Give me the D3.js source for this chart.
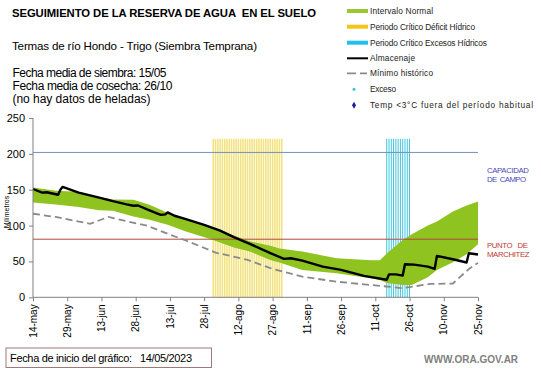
<!DOCTYPE html>
<html><head><meta charset="utf-8">
<script src="https://cdn.jsdelivr.net/npm/d3@7"></script>
<style>body{margin:0;background:#fff}svg{display:block;font-family:"Liberation Sans",Arial,sans-serif}svg text{white-space:pre}</style>
</head><body><svg id="c" width="541" height="368"></svg>
<script>
// ---- data (day offset from 14/05/2023, value in mm) ----
const startDate = "2023-05-14";
const tickLabels = ["14-may","29-may","13-jun","28-jun","13-jul","28-jul","12-ago","27-ago","11-sep","26-sep","11-oct","26-oct","10-nov","25-nov"];
const almDays = [0,4,6,11,12,13,20,29,35,41,44,46,50,54,56,58,59,62,67,75,82,88,95,104,110,113,118,127,135,145,155,156,159,162,163,167,173,176,177,184,190,191,195];
const almVals = [151,146,146.5,143,150,154,146,139,134,129.5,127.7,128,122.5,117.5,115,115.6,118.4,113.7,109,101,93,84,74.6,61.5,53.6,54.5,51.2,42.8,38.2,29.8,24.5,32,32,30.3,46,45.5,42.8,39.5,57.8,53,48.5,61.5,59.6];
const bandDays = [0,10,20,29,35,44,51,59,67,78,88,95,104,108,118,133,148,152,155,162,166,173,177,184,190,195];
const bandHigh = [153,148.7,147,140,136.5,136,129,118,110,96.5,86,78,72,68,63.8,54.5,51.5,51.5,61,80,88,100,105.8,119.8,128,133.7];
const bandLow  = [132.3,129.5,126,121.5,120.6,112.8,108,101,91.8,81,69.4,63.8,52,48.4,38.2,33.5,26.5,24,20,17,17,28,38,49,60,74];
const minDays = [0,10,25,33,50,59,67,80,94,104,118,133,148,162,174,184,191,195];
const minVals = [116.5,112,102.5,112,99.7,88.6,79.2,62.4,52.2,40.6,28.8,21.8,17.2,12.8,18.6,19.2,39.5,48];
const deficitStart = 79, deficitEnd = 109;
const excessStart = 155, excessEnd = 165;
const periodTop = 221;
const capacidad = 202, marchitez = 81;
const yTicks = [0,50,100,150,200,250];
const legendLabels = ["Intervalo Normal", "Periodo Crítico Déficit Hídrico", "Periodo Crítico Excesos Hídricos", "Almacenaje", "Mínimo histórico", "Exceso", "Temp <3°C fuera del período habitual"];

const svg = d3.select("#c");
const t0 = d3.timeParse("%Y-%m-%d")(startDate);
const dt = d => d3.timeDay.offset(t0, d);
const x = d3.scaleTime().domain([dt(0), dt(195)]).range([33, 478]);
const y = d3.scaleLinear().domain([0, 250]).range([297.3, 118]);
const X = d => x(dt(d));

// period bars
const g = svg.append("g");
g.selectAll(".def").data(d3.range(deficitStart, deficitEnd + 1)).join("line")
  .attr("x1", X).attr("x2", X).attr("y1", y(0)).attr("y2", y(periodTop))
  .attr("stroke", "#f2e27c").attr("stroke-width", 1.5);
g.selectAll(".exc").data(d3.range(excessStart, excessEnd + 1)).join("line")
  .attr("x1", X).attr("x2", X).attr("y1", y(0)).attr("y2", y(periodTop))
  .attr("stroke", "#3fc6dc").attr("stroke-width", 1);

// band
const band = bandDays.map((d, i) => ({d, h: bandHigh[i], l: bandLow[i]}));
g.append("path").datum(band)
  .attr("d", d3.area().x(p => X(p.d)).y0(p => y(p.l)).y1(p => y(p.h)))
  .attr("fill", "#8fc31f");

// reference lines
g.append("line").attr("x1", x.range()[0]).attr("x2", x.range()[1]).attr("y1", y(capacidad)).attr("y2", y(capacidad))
  .attr("stroke", "#7090c0").attr("stroke-width", 1);
g.append("line").attr("x1", x.range()[0]).attr("x2", x.range()[1]).attr("y1", y(marchitez)).attr("y2", y(marchitez))
  .attr("stroke", "#b04a40").attr("stroke-width", 1);

// minimo historico
g.append("path").datum(minDays.map((d, i) => [d, minVals[i]]))
  .attr("d", d3.line().x(p => X(p[0])).y(p => y(p[1])))
  .attr("fill", "none").attr("stroke", "#8a8a8a").attr("stroke-width", 1.8).attr("stroke-dasharray", "7,4");

// almacenaje
g.append("path").datum(almDays.map((d, i) => [d, almVals[i]]))
  .attr("d", d3.line().x(p => X(p[0])).y(p => y(p[1])))
  .attr("fill", "none").attr("stroke", "#000").attr("stroke-width", 2.4).attr("stroke-linejoin", "round");

// axes
const yAx = svg.append("g").attr("transform", "translate(33,0)")
  .call(d3.axisLeft(y).tickValues(yTicks).tickSize(4).tickPadding(4));
yAx.selectAll("text").attr("font-size", 11).attr("fill", "#000").attr("font-family", "Liberation Sans, Arial");
yAx.selectAll("line,path").attr("stroke", "#808080");
yAx.select("path").attr("d", `M0,${y(0)}V${y(250)}`);

const tickDates = tickLabels.map((l, i) => dt(i * 15));
const xAx = svg.append("g").attr("transform", `translate(0,${y(0)})`)
  .call(d3.axisBottom(x).tickValues(tickDates).tickSize(4).tickFormat((d, i) => tickLabels[i]));
xAx.selectAll("line,path").attr("stroke", "#808080");
xAx.select("path").attr("d", `M${x.range()[0]},0H${x.range()[1]}`);
xAx.selectAll("text").attr("font-size", 10).attr("fill", "#000").attr("font-family", "Liberation Sans, Arial")
  .attr("transform", "rotate(-90)").attr("text-anchor", "end").attr("dx", "-0.5em").attr("dy", "0.32em").attr("x", -2).attr("y", 0);

svg.append("text").attr("transform", "translate(9,212) rotate(-90)").attr("text-anchor", "middle")
  .attr("font-size", 7).text("Milímetros");

// right labels
const rl = svg.append("g").attr("font-size", 7.8);
rl.append("text").attr("x", 487).attr("y", 173).attr("fill", "#4a48b8").attr("textLength", 42).text("CAPACIDAD");
rl.append("text").attr("x", 487).attr("y", 182).attr("fill", "#4a48b8").attr("textLength", 39).text("DE  CAMPO");
rl.append("text").attr("x", 487).attr("y", 247.5).attr("fill", "#c03a34").attr("textLength", 41).text("PUNTO   DE");
rl.append("text").attr("x", 487).attr("y", 257).attr("fill", "#c03a34").attr("textLength", 42.5).text("MARCHITEZ");

// titles
svg.append("text").attr("x", 12).attr("y", 17).attr("font-size", 11.3).attr("font-weight", "bold")
  .attr("textLength", 304).text("SEGUIMIENTO DE LA RESERVA DE AGUA  EN EL SUELO");
svg.append("text").attr("x", 12).attr("y", 50).attr("font-size", 11.6).attr("textLength", 245)
  .text("Termas de río Hondo - Trigo (Siembra Temprana)");
const infoLines = ["Fecha media de siembra: 15/05", "Fecha media de cosecha: 26/10", "(no hay datos de heladas)"];
const infoLens = [154, 160, 138];
infoLines.forEach((t, i) =>
  svg.append("text").attr("x", 12.5).attr("y", 77 + i * 13).attr("font-size", 12).attr("textLength", infoLens[i]).text(t));

// legend
const lg = svg.append("g").attr("font-size", 8.3);
const ly = [11, 26.7, 42.7, 58.3, 73.3, 89.3, 105.3];
const lLens = [63, 105, 117, 45, 63, 26, 163];
["#99c832", "#f5c518", "#22c0e8"].forEach((c, i) =>
  lg.append("rect").attr("x", 347).attr("y", ly[i] - 2).attr("width", 21).attr("height", 4).attr("fill", c));
lg.append("line").attr("x1", 347).attr("x2", 368).attr("y1", ly[3]).attr("y2", ly[3]).attr("stroke", "#000").attr("stroke-width", 2);
lg.append("line").attr("x1", 347).attr("x2", 367).attr("y1", ly[4]).attr("y2", ly[4]).attr("stroke", "#8a8a8a").attr("stroke-width", 1.8).attr("stroke-dasharray", "9,4");
lg.append("circle").attr("cx", 354).attr("cy", ly[5]).attr("r", 1.5).attr("fill", "#3cc0d8");
lg.append("path").attr("d", d3.symbol(d3.symbolDiamond, 14)()).attr("transform", `translate(354,${ly[6]})`).attr("fill", "#1c1c9c");
legendLabels.forEach((t, i) => lg.append("text").attr("x", 370).attr("y", ly[i] + 3).attr("fill", "#222")
  .attr("textLength", lLens[i]).text(t));

// footer
svg.append("rect").attr("x", 6).attr("y", 348).attr("width", 205.5).attr("height", 19.5).attr("fill", "none").attr("stroke", "#9a7a7a");
svg.append("text").attr("x", 10).attr("y", 361.7).attr("font-size", 11).attr("textLength", 182).text("Fecha de inicio del gráfico:   14/05/2023");
svg.append("text").attr("x", 424).attr("y", 363).attr("font-size", 10).attr("font-weight", "bold").attr("fill", "#808080").text("WWW.ORA.GOV.AR");
</script></body></html>
